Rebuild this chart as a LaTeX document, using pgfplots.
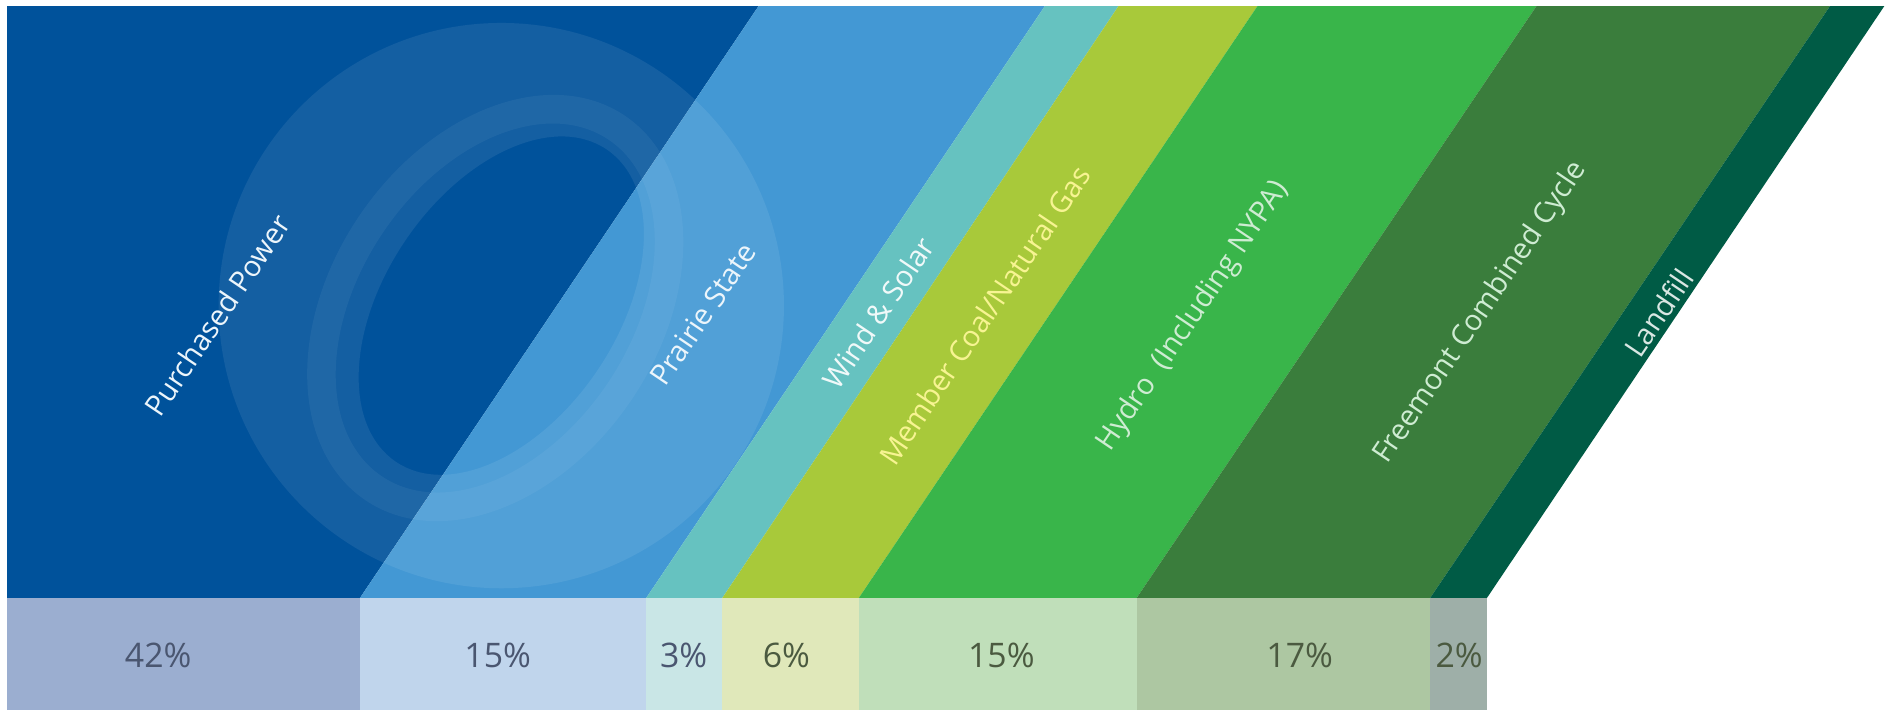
\documentclass[border=0pt]{standalone}
\usepackage{pgfplots}
\pgfplotsset{compat=1.18}
\usepackage{fontspec}
\setmainfont{Open Sans}
\definecolor{cPP}{HTML}{00529B}
\definecolor{cPS}{HTML}{4398D4}
\definecolor{cWS}{HTML}{66C2C0}
\definecolor{cMC}{HTML}{A8C93A}
\definecolor{cHY}{HTML}{39B54A}
\definecolor{cFC}{HTML}{3A7D3C}
\definecolor{cLF}{HTML}{005B45}
\definecolor{bPP}{HTML}{9BAED0}
\definecolor{bPS}{HTML}{C0D5EC}
\definecolor{bWS}{HTML}{C9E6E6}
\definecolor{bMC}{HTML}{E0E8BA}
\definecolor{bHY}{HTML}{C0DFBA}
\definecolor{bFC}{HTML}{ADC7A2}
\definecolor{bLF}{HTML}{9EAFA8}
\definecolor{tBlue}{HTML}{4A5670}
\definecolor{tGreen}{HTML}{4B5A40}
\begin{document}
\begin{tikzpicture}
\begin{axis}[width=784pt, height=295pt, scale only axis,
  xmin=0, xmax=1568, ymin=0, ymax=590, y dir=reverse,
  hide axis, clip=true]
% background
\addplot[fill=white, draw=none] coordinates {(0,0)(1568,0)(1568,590)(0,590)};
% slanted bands
\addplot[fill=cPP, draw=none] coordinates {(6,5)(628,5)(298,495)(6,495)};
\addplot[fill=cPS, draw=none] coordinates {(628,5)(865,5)(535,495)(298,495)};
\addplot[fill=cWS, draw=none] coordinates {(865,5)(926,5)(598,495)(535,495)};
\addplot[fill=cMC, draw=none] coordinates {(926,5)(1041,5)(711,495)(598,495)};
\addplot[fill=cHY, draw=none] coordinates {(1041,5)(1272,5)(941,495)(711,495)};
\addplot[fill=cFC, draw=none] coordinates {(1272,5)(1515,5)(1184,495)(941,495)};
\addplot[fill=cLF, draw=none] coordinates {(1515,5)(1560,5)(1231,495)(1184,495)};
% bottom strip
\addplot[fill=bPP, draw=none] coordinates {(6,495)(298,495)(298,588)(6,588)};
\addplot[fill=bPS, draw=none] coordinates {(298,495)(535,495)(535,588)(298,588)};
\addplot[fill=bWS, draw=none] coordinates {(535,495)(598,495)(598,588)(535,588)};
\addplot[fill=bMC, draw=none] coordinates {(598,495)(711,495)(711,588)(598,588)};
\addplot[fill=bHY, draw=none] coordinates {(711,495)(941,495)(941,588)(711,588)};
\addplot[fill=bFC, draw=none] coordinates {(941,495)(1184,495)(1184,588)(941,588)};
\addplot[fill=bLF, draw=none] coordinates {(1184,495)(1231,495)(1231,588)(1184,588)};
% swirl decoration (faint ring)
\begin{scope}
\clip (axis cs:6,5) rectangle (axis cs:1560,494);
\fill[white, opacity=0.08, even odd rule]
  [shift={(axis cs:415,253)}]
  (0,0) circle [radius=117pt]
  [rotate=56] (0,0) ellipse [x radius=78pt, y radius=48pt];
\fill[white, opacity=0.05, even odd rule]
  [shift={(axis cs:410,255)}] [rotate=56]
  (0,0) ellipse [x radius=96pt, y radius=68pt]
  (0,0) ellipse [x radius=84pt, y radius=56pt];
\end{scope}
% percentages
\addplot[draw=none, point meta=explicit symbolic,
  nodes near coords,
  nodes near coords style={anchor=center, font=\fontsize{14pt}{16pt}\selectfont, text=tBlue}]
  table[meta=p] {
x y p
131 543 42\%
412 543 15\%
566 543 3\%
};
\addplot[draw=none, point meta=explicit symbolic,
  nodes near coords,
  nodes near coords style={anchor=center, font=\fontsize{14pt}{16pt}\selectfont, text=tGreen}]
  table[meta=p] {
x y p
651 543 6\%
829 543 15\%
1076 543 17\%
1208 543 2\%
};
% category labels
\tikzset{lbl/.style={rotate=56, anchor=center, font=\fontsize{12pt}{14pt}\selectfont}}
\node[lbl, text=white!90!cPS] at (axis cs:180,261) {Purchased Power};
\node[lbl, text=white!90!cPS] at (axis cs:582,260) {Prairie State};
\node[lbl, text=white!90!cWS] at (axis cs:727,259) {Wind \& Solar};
\node[lbl, text=white!60!yellow!90!cMC] at (axis cs:815,261) {Member Coal/Natural Gas};
\node[lbl, text=white!75!cHY] at (axis cs:988,262) {Hydro~~(Including NYPA)};
\node[lbl, text=white!75!cHY] at (axis cs:1226,259) {Freemont Combined Cycle};
\node[lbl, text=white!85!cLF] at (axis cs:1373,259) {Landfill};
\end{axis}
\end{tikzpicture}
\end{document}
